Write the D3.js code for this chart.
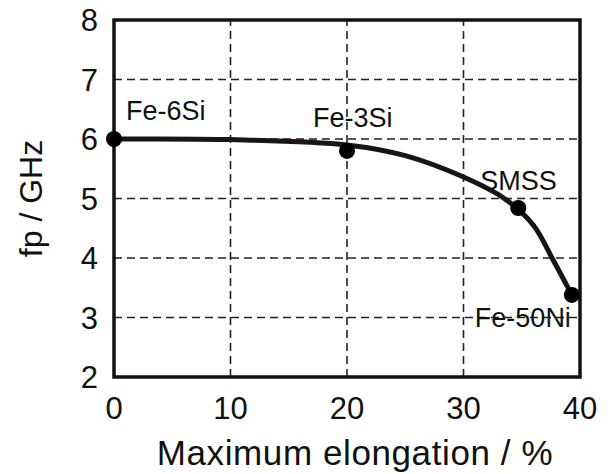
<!DOCTYPE html>
<html>
<head>
<meta charset="utf-8">
<script src="https://cdn.jsdelivr.net/npm/d3@7"></script>
<style>
  body { margin: 0; background: #fff; }
  text { font-family: 'Liberation Sans', Arial, sans-serif; fill: #111; }
</style>
</head>
<body>
<div id="chart"><svg></svg></div>
<script>
// alloys measured (elongation %, fp GHz)
const alloys = ['Fe-6Si', 'Fe-3Si', 'SMSS', 'Fe-50Ni']
const elongation = [0, 20, 34.7, 39.3]
const freq = [6.0, 5.8, 4.84, 3.38]

// trend curve
const curveX = [0, 10, 20, 25, 30, 33.5, 36, 37.6, 38.7, 39.3]
const curveY = [6.0, 5.99, 5.9, 5.72, 5.36, 5.0, 4.55, 4.0, 3.6, 3.38]

const xTicks = [0, 10, 20, 30, 40]
const yTicks = [2, 3, 4, 5, 6, 7, 8]

// label offsets relative to each point
const labelDx = [12, -34, -38, -97]
const labelDy = [-19, -24, -18, 32]

const width = 610
const height = 474
const margin = { top: 20, right: 30, bottom: 97, left: 114 }

const svg = d3.select('#chart svg')
  .attr('width', width)
  .attr('height', height)

const x = d3.scaleLinear().domain([0, 40]).range([margin.left, width - margin.right])
const y = d3.scaleLinear().domain([2, 8]).range([height - margin.bottom, margin.top])

// dashed grid
svg.append('g')
  .selectAll('line')
  .data(xTicks.slice(1, -1))
  .join('line')
  .attr('x1', d => x(d))
  .attr('x2', d => x(d))
  .attr('y1', y(2))
  .attr('y2', y(8))
  .attr('stroke', '#222')
  .attr('stroke-width', 1.6)
  .attr('stroke-dasharray', '8,5')

svg.append('g')
  .selectAll('line')
  .data(yTicks.slice(1, -1))
  .join('line')
  .attr('x1', x(0))
  .attr('x2', x(40))
  .attr('y1', d => y(d))
  .attr('y2', d => y(d))
  .attr('stroke', '#222')
  .attr('stroke-width', 1.6)
  .attr('stroke-dasharray', '8,5')

// frame
svg.append('rect')
  .attr('x', x(0))
  .attr('y', y(8))
  .attr('width', x(40) - x(0))
  .attr('height', y(2) - y(8))
  .attr('fill', 'none')
  .attr('stroke', '#111')
  .attr('stroke-width', 3.5)

// tick labels
svg.append('g')
  .selectAll('text')
  .data(xTicks)
  .join('text')
  .attr('x', d => x(d))
  .attr('y', y(2) + 42)
  .attr('text-anchor', 'middle')
  .style('font-size', '31px')
  .text(d => d)

svg.append('g')
  .selectAll('text')
  .data(yTicks)
  .join('text')
  .attr('x', x(0) - 16)
  .attr('y', d => y(d) + 11)
  .attr('text-anchor', 'end')
  .style('font-size', '31px')
  .text(d => d)

// axis titles
svg.append('text')
  .attr('x', (x(0) + x(40)) / 2 + 8)
  .attr('y', height - 9)
  .attr('text-anchor', 'middle')
  .style('font-size', '35px')
  .style('letter-spacing', '0.6px')
  .text('Maximum elongation / %')

svg.append('text')
  .attr('transform', `translate(42, ${(y(2) + y(8)) / 2}) rotate(-90)`)
  .attr('text-anchor', 'middle')
  .style('font-size', '32px')
  .text('fp / GHz')

// trend curve
const line = d3.line()
  .x(d => x(d[0]))
  .y(d => y(d[1]))
  .curve(d3.curveCatmullRom.alpha(0.5))

svg.append('path')
  .datum(d3.zip(curveX, curveY))
  .attr('d', line)
  .attr('fill', 'none')
  .attr('stroke', '#1a1414')
  .attr('stroke-width', 5)

// points
svg.append('g')
  .selectAll('circle')
  .data(alloys)
  .join('circle')
  .attr('cx', (d, i) => x(elongation[i]))
  .attr('cy', (d, i) => y(freq[i]))
  .attr('r', 8)
  .attr('fill', '#000')

// point labels
svg.append('g')
  .selectAll('text')
  .data(alloys)
  .join('text')
  .attr('x', (d, i) => x(elongation[i]) + labelDx[i])
  .attr('y', (d, i) => y(freq[i]) + labelDy[i])
  .style('font-size', '27px')
  .text(d => d)
</script>
</body>
</html>
